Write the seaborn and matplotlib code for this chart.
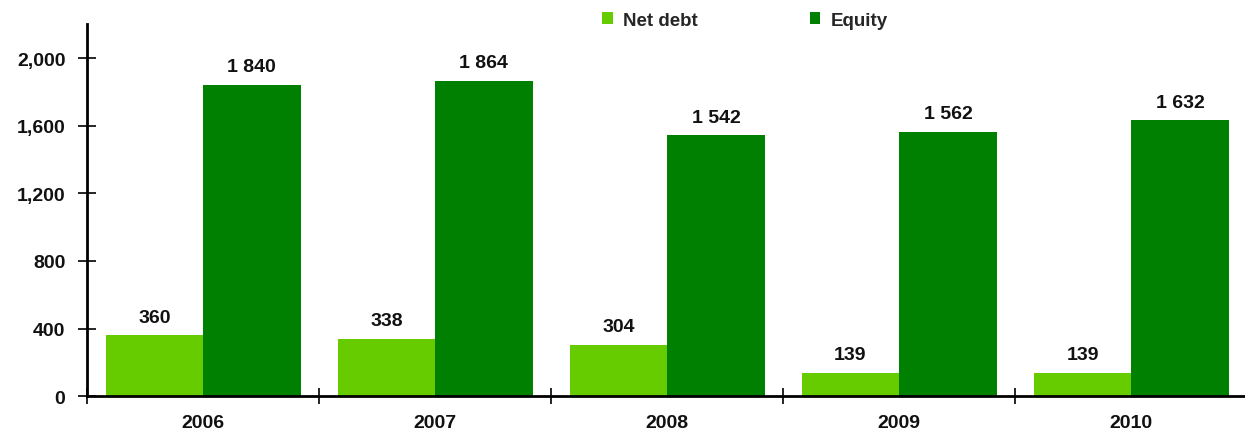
import matplotlib
matplotlib.use("Agg")
import matplotlib.pyplot as plt
import seaborn as sns
import pandas as pd
from matplotlib.ticker import FixedLocator, FuncFormatter

years = ["2006", "2007", "2008", "2009", "2010"]
net_debt = [360, 338, 304, 139, 139]
equity = [1840, 1864, 1542, 1562, 1632]
series_names = ["Net debt", "Equity"]
colors = ["#66CC00", "#008000"]
yticks = [0, 400, 800, 1200, 1600, 2000]

df = pd.DataFrame({
    "year": years * 2,
    "value": net_debt + equity,
    "series": [series_names[0]] * len(years) + [series_names[1]] * len(years),
})

sns.set_theme(style="white")
plt.rcParams["font.family"] = ["Liberation Sans", "DejaVu Sans"]
plt.rcParams["font.weight"] = "bold"

fig = plt.figure(figsize=(12.45, 4.35), dpi=100)
ax = fig.add_axes([0.0699, 0.087, 0.9301, 0.855])

sns.barplot(data=df, x="year", y="value", hue="series", palette=colors,
            width=0.84, saturation=1, ax=ax, legend=True, edgecolor="none")

def fmt_label(v):
    return f"{int(v):,}".replace(",", " ")

for cont in ax.containers:
    labels = [fmt_label(b.get_height()) for b in cont]
    ax.bar_label(cont, labels=labels, padding=7, fontsize=14, fontweight="bold", color="#111111")

ax.set_xlim(-0.5, 4.49)
ax.set_ylim(0, 2200)
ax.set_yticks(yticks)
ax.yaxis.set_major_formatter(FuncFormatter(lambda v, p: f"{int(v):,}"))
ax.set_xlabel("")
ax.set_ylabel("")

ax.xaxis.set_minor_locator(FixedLocator([i - 0.5 for i in range(len(years) + 1)]))
ax.tick_params(axis="x", which="major", length=0, pad=13, labelsize=14, labelcolor="#111111")
ax.tick_params(axis="x", which="minor", bottom=True, direction="inout", length=12, width=1.2, color="black")
ax.tick_params(axis="y", which="major", left=True, direction="inout", length=13, width=1.2,
               color="black", pad=9, labelsize=14, labelcolor="#111111")
for lab in ax.get_xticklabels() + ax.get_yticklabels():
    lab.set_fontweight("bold")

for s in ["top", "right"]:
    ax.spines[s].set_visible(False)
ax.spines["left"].set_linewidth(2)
ax.spines["left"].set_color("black")
ax.spines["bottom"].set_linewidth(2)
ax.spines["bottom"].set_color("black")

handles, labels = ax.get_legend_handles_labels()
ax.get_legend().remove()
fig.legend(handles, labels, loc="center", bbox_to_anchor=(745 / 1245, 1 - 21 / 435), ncol=2,
           frameon=False, handlelength=0.55, handleheight=0.55, columnspacing=6.0,
           handletextpad=0.55, borderpad=0, prop={"weight": "bold", "size": 13.5})

fig.savefig("out.png", dpi=100)
